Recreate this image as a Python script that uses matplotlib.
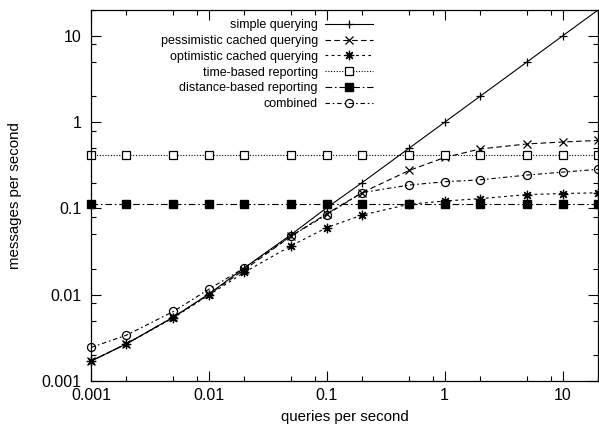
import numpy as np
import matplotlib
matplotlib.use("Agg")
import matplotlib.pyplot as plt
from matplotlib.ticker import FixedLocator, FixedFormatter, NullFormatter

plt.rcParams['font.family'] = ['Liberation Sans', 'DejaVu Sans']

# queries per second
x = [0.001, 0.002, 0.005, 0.01, 0.02, 0.05, 0.1, 0.2, 0.5, 1, 2, 5, 10, 20]

simple = [0.0017, 0.0027, 0.0055, 0.0102, 0.0205, 0.05, 0.102, 0.2, 0.5, 1, 2, 5, 10, 20]
pessimistic = [0.0017, 0.0027, 0.0055, 0.0101, 0.0195, 0.048, 0.087, 0.153, 0.276, 0.39, 0.49, 0.56, 0.59, 0.615]
optimistic = [0.0017, 0.0027, 0.0054, 0.0099, 0.0182, 0.037, 0.06, 0.084, 0.112, 0.122, 0.13, 0.145, 0.149, 0.152]
time_based = [0.42, 0.42, 0.42, 0.42, 0.42, 0.42, 0.42, 0.42, 0.42, 0.42, 0.42, 0.42, 0.42, 0.42]
distance_based = [0.112, 0.112, 0.112, 0.112, 0.112, 0.112, 0.112, 0.112, 0.112, 0.112, 0.112, 0.112, 0.112, 0.112]
combined = [0.00245, 0.0034, 0.0064, 0.0116, 0.0205, 0.048, 0.085, 0.153, 0.187, 0.204, 0.215, 0.244, 0.264, 0.284]

major_ticks = [0.001, 0.01, 0.1, 1, 10]
major_labels = ["0.001", "0.01", "0.1", "1", "10"]

fig = plt.figure(figsize=(5.99, 4.30), dpi=100)
ax = fig.add_axes([91 / 599, 49 / 430, 507 / 599, 371 / 430])

lw = 0.8
ms = 5.8
ax.plot(x, simple, color='black', lw=lw, ls='-', marker='+', ms=ms, mew=0.9,
        label='simple querying')
ax.plot(x, pessimistic, color='black', lw=lw, ls=(0, (5, 3)), marker='x', ms=ms, mew=0.9,
        label='pessimistic cached querying', clip_on=False)
ax.plot(x, optimistic, color='black', lw=lw, ls=(0, (2.5, 3)), marker=(8, 2, 0), ms=ms + 1, mew=0.9,
        label='optimistic cached querying', clip_on=False)
ax.plot(x, time_based, color='black', lw=lw, ls=(0, (1, 1.5)), marker='s', ms=ms, mew=0.9,
        mfc='white', label='time-based reporting', clip_on=False)
ax.plot(x, distance_based, color='black', lw=lw, ls=(0, (6, 2.5, 1.5, 2.5)), marker='s', ms=ms + 0.5,
        mfc='black', label='distance-based reporting', clip_on=False)
ax.plot(x, combined, color='black', lw=lw, ls=(0, (4, 2.5, 1.5, 2.5)), marker='o', ms=ms, mew=0.9,
        mfc='none', label='combined', clip_on=False)

ax.set_xscale('log')
ax.set_yscale('log')
ax.set_xlim(0.001, 20)
ax.set_ylim(0.001, 20)

minor = []
for dec in [0.001, 0.01, 0.1, 1, 10]:
    for m in [2, 5, 8]:
        minor.append(dec * m)
for axis in [ax.xaxis, ax.yaxis]:
    axis.set_major_locator(FixedLocator(major_ticks))
    axis.set_major_formatter(FixedFormatter(major_labels))
    axis.set_minor_locator(FixedLocator(minor))
    axis.set_minor_formatter(NullFormatter())

ax.tick_params(which='both', direction='in', top=True, right=True, width=0.8, labelsize=11.5)
ax.tick_params(axis='x', which='both', pad=5)
ax.tick_params(axis='y', which='both', pad=7)
ax.tick_params(which='major', length=7)
ax.tick_params(which='minor', length=3.5)
for s in ax.spines.values():
    s.set_linewidth(0.9)

ax.set_xlabel('queries per second', fontsize=10.8, labelpad=5)
ax.set_ylabel('messages per second', fontsize=10.8, labelpad=14)

ax.legend(loc='upper right', bbox_to_anchor=(0.556, 0.975), frameon=False, markerfirst=False,
          alignment='right', handlelength=3.8, handletextpad=0.6, labelspacing=0.3,
          borderpad=0, borderaxespad=0, fontsize=9)

fig.savefig('out.png', dpi=100)
